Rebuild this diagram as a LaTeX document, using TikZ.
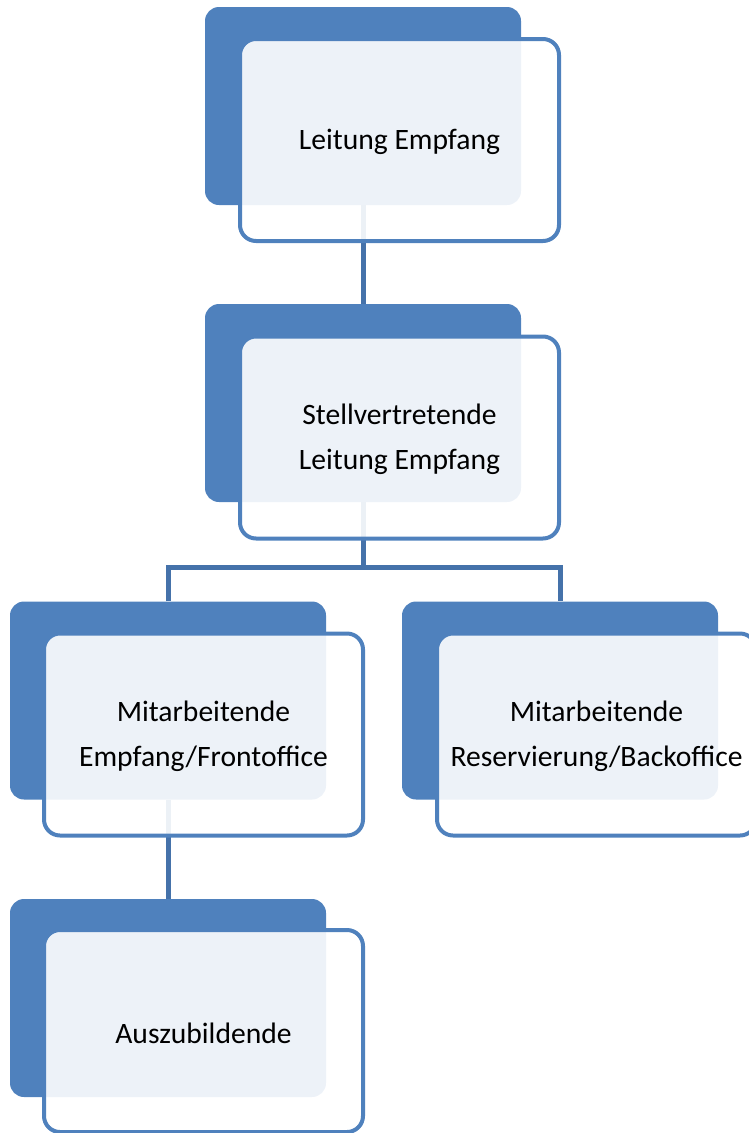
\documentclass[tikz,border=0pt]{standalone}
\usepackage{fontspec}
\setmainfont{Carlito}
\definecolor{boxblue}{HTML}{4F81BD}
\definecolor{linkblue}{HTML}{4572AA}
\begin{document}
\begin{tikzpicture}[x=1pt,y=-1pt,
  backbox/.style={draw=none, fill=boxblue, rounded corners=14pt, minimum width=316pt, minimum height=198pt, inner sep=0pt},
  frontbox/.style={draw=boxblue, line width=4pt, fill=white, fill opacity=0.9, text opacity=1, rounded corners=16pt, minimum width=319pt, minimum height=202pt, inner sep=0pt},
  label/.style={align=center, font=\fontsize{29.6}{45}\selectfont, inner sep=0pt},
  link/.style={draw=linkblue, line width=5pt}]
\useasboundingbox (0,0) rectangle (749,1133);
% back boxes
\node[backbox] (b1) at (363,106) {};
\node[backbox] (b2) at (363,403) {};
\node[backbox] (b3) at (168,700.5) {};
\node[backbox] (b4) at (560,700.5) {};
\node[backbox] (b5) at (168,998) {};
% connectors
\coordinate (j2) at (363,567);
\draw[link] (b1.south) -- (b2.north);
\draw[link] (b2.south) -- (j2);
\draw[link] (b3.north) |- (j2) -| (b4.north);
\draw[link] (b3.south) -- (b5.north);
% front boxes
\node[frontbox] (f1) at (399.5,140) {};
\node[frontbox] (f2) at (399.5,437.5) {};
\node[frontbox] (f3) at (203.5,734.5) {};
\node[frontbox] (f4) at (596.5,734.5) {};
\node[frontbox] (f5) at (203.5,1031) {};
% labels
\node[label] (t1) at ([yshift=-2pt]f1.center) {Leitung Empfang};
\node[label] (t2) at ([yshift=-2pt]f2.center) {Stellvertretende\\Leitung Empfang};
\node[label] (t3) at ([yshift=-2pt]f3.center) {Mitarbeitende\\Empfang/Frontoffice};
\node[label] (t4) at ([yshift=-2pt]f4.center) {Mitarbeitende\\Reservierung/Backoffice};
\node[label] (t5) at ([yshift=-2pt]f5.center) {Auszubildende};
\end{tikzpicture}
\end{document}
